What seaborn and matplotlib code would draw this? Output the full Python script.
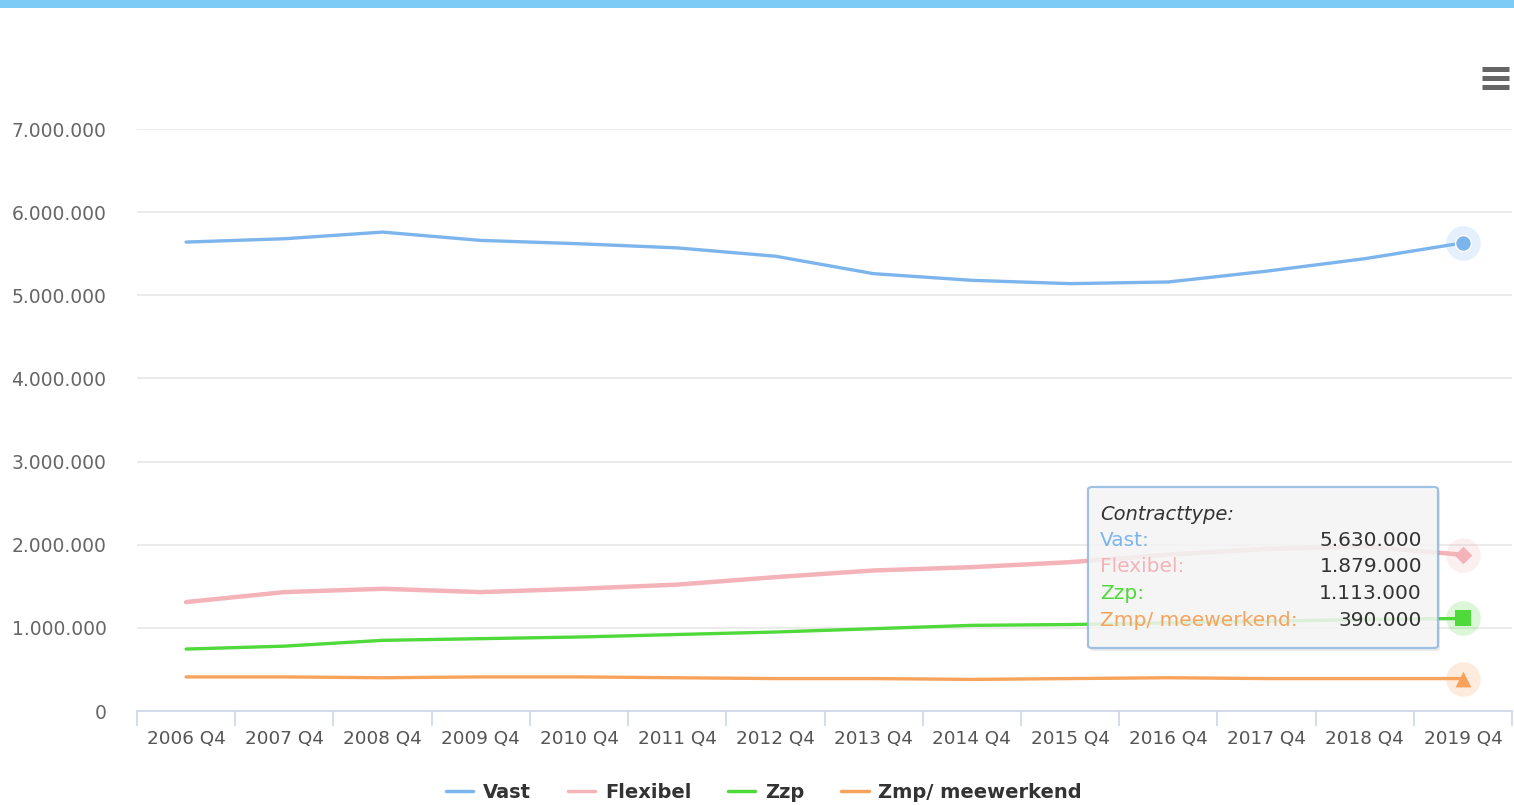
import matplotlib
matplotlib.use("Agg")
import matplotlib.pyplot as plt
import matplotlib.ticker as mticker
from matplotlib.patches import FancyBboxPatch, Rectangle
from matplotlib.lines import Line2D
import seaborn as sns
import pandas as pd
import numpy as np

# ---- data ----
categories = ["2006 Q4", "2007 Q4", "2008 Q4", "2009 Q4", "2010 Q4", "2011 Q4", "2012 Q4",
              "2013 Q4", "2014 Q4", "2015 Q4", "2016 Q4", "2017 Q4", "2018 Q4", "2019 Q4"]
vast = [5640000, 5680000, 5760000, 5660000, 5620000, 5570000, 5470000,
        5260000, 5180000, 5140000, 5160000, 5290000, 5440000, 5630000]
flexibel = [1310000, 1430000, 1470000, 1430000, 1470000, 1520000, 1610000,
            1690000, 1730000, 1790000, 1880000, 1950000, 1980000, 1879000]
zzp = [745000, 780000, 850000, 870000, 890000, 920000, 950000,
       990000, 1030000, 1040000, 1060000, 1080000, 1100000, 1113000]
zmp = [410000, 410000, 400000, 410000, 410000, 400000, 390000,
       390000, 380000, 390000, 400000, 390000, 390000, 390000]
series_names = ["Vast", "Flexibel", "Zzp", "Zmp/ meewerkend"]
colors = ["#7cb5ec", "#f4b3b8", "#4fd93b", "#f7a35c"]
markers = ["o", "D", "s", "^"]
tooltip_title = "Contracttype:"

def fmt(v):
    return f"{int(v):,}".replace(",", ".")

df = pd.DataFrame({
    "cat": categories * 4,
    "x": list(range(len(categories))) * 4,
    "value": vast + flexibel + zzp + zmp,
    "series": sum([[n] * len(categories) for n in series_names], []),
})

sns.set_theme(style="white")
plt.rcParams["font.family"] = ["DejaVu Sans"]

fig = plt.figure(figsize=(15.14, 8.05), dpi=100)
W, H = 1514, 805
ax = fig.add_axes([137 / W, 1 - 711 / H, (1512 - 137) / W, (711 - 129) / H])

palette = dict(zip(series_names, colors))
sns.lineplot(data=df, x="x", y="value", hue="series", palette=palette,
             hue_order=series_names, ax=ax, legend=False, linewidth=2.4,
             sort=False)
for ln, n in zip(ax.get_lines(), series_names):
    if n == "Flexibel":
        ln.set_linewidth(3.2)

# end markers with halo
all_series = [vast, flexibel, zzp, zmp]
last = len(categories) - 1
for vals, c, m in zip(all_series, colors, markers):
    ax.scatter([last], [vals[-1]], s=620, color=c, alpha=0.2, zorder=5, linewidths=0)
    ms = 130 if m != "D" else 80
    ax.scatter([last], [vals[-1]], s=ms, color=c, marker=m, zorder=6,
               edgecolors="white" if m == "o" else c, linewidths=1.0 if m == "o" else 0)

ax.set_xlim(-0.5, len(categories) - 0.5)
ax.set_ylim(0, 7000000)
ax.set_yticks(np.arange(0, 7000001, 1000000))
ax.yaxis.set_major_formatter(mticker.FuncFormatter(lambda v, p: fmt(v)))
ax.set_xticks(range(len(categories)))
ax.set_xticklabels(categories)
ax.set_xticks(np.arange(-0.5, len(categories), 1.0), minor=True)
ax.tick_params(axis="x", which="major", bottom=False, length=0, pad=14,
               labelsize=13.2, labelcolor="#555555")
ax.tick_params(axis="x", which="minor", bottom=True, length=11, width=1.2,
               color="#ccd6eb", direction="out")
ax.tick_params(axis="y", length=0, pad=22, labelsize=13.5, labelcolor="#666666")
ax.set_xlabel("")
ax.set_ylabel("")
ax.grid(axis="y", color="#e6e6e6", linewidth=1.1)
ax.grid(axis="x", visible=False)
for s in ["top", "right", "left"]:
    ax.spines[s].set_visible(False)
ax.spines["bottom"].set_color("#ccd6eb")
ax.spines["bottom"].set_linewidth(1.2)
ax.set_axisbelow(True)

# tooltip
tx0, ty0, tx1, ty1 = 1088, 487, 1438, 648
box = FancyBboxPatch((tx0 / W, 1 - ty1 / H), (tx1 - tx0) / W, (ty1 - ty0) / H,
                     boxstyle="round,pad=0,rounding_size=0.003",
                     transform=fig.transFigure, facecolor="#f7f7f7", alpha=0.85,
                     edgecolor="#8fb8e0", linewidth=1.6, zorder=10)
shadow = FancyBboxPatch(((tx0 + 2) / W, 1 - (ty1 + 3) / H), (tx1 - tx0) / W, (ty1 - ty0) / H,
                        boxstyle="round,pad=0,rounding_size=0.003",
                        transform=fig.transFigure, facecolor="#000000", alpha=0.08,
                        edgecolor="none", zorder=9)
fig.patches.extend([shadow, box])
fig.text(1100 / W, 1 - 514 / H, tooltip_title, fontsize=14, style="italic",
         color="#333333", va="center", ha="left", zorder=11)
row_y = [540, 566, 593, 620]
for n, c, vals, yy in zip(series_names, colors, all_series, row_y):
    fig.text(1100 / W, 1 - yy / H, n + ":", fontsize=14.5, color=c, va="center",
             ha="left", zorder=11, fontweight="medium")
    fig.text(1422 / W, 1 - yy / H, fmt(vals[-1]), fontsize=14.5, color="#333333",
             va="center", ha="right", zorder=11)

# legend
handles = [Line2D([0], [0], color=c, linewidth=2.5) for c in colors]
leg = fig.legend(handles, series_names, loc="center", bbox_to_anchor=(764 / W, 1 - 792 / H),
                 ncol=4, frameon=False, handlelength=1.4, handletextpad=0.5,
                 columnspacing=1.9, prop={"size": 14, "weight": "bold"})
for t in leg.get_texts():
    t.set_color("#333333")

# top banner strip
fig.patches.append(Rectangle((0, 1 - 8 / H), 1, 8 / H, transform=fig.transFigure,
                             facecolor="#7ccaf6", edgecolor="none", zorder=0))

# hamburger menu icon
for yy in [69, 78, 87]:
    fig.add_artist(Line2D([1482 / W, 1509 / W], [1 - yy / H, 1 - yy / H],
                          transform=fig.transFigure, color="#666666", linewidth=3.6,
                          solid_capstyle="butt"))

fig.savefig("out.png", dpi=100, facecolor="white")
